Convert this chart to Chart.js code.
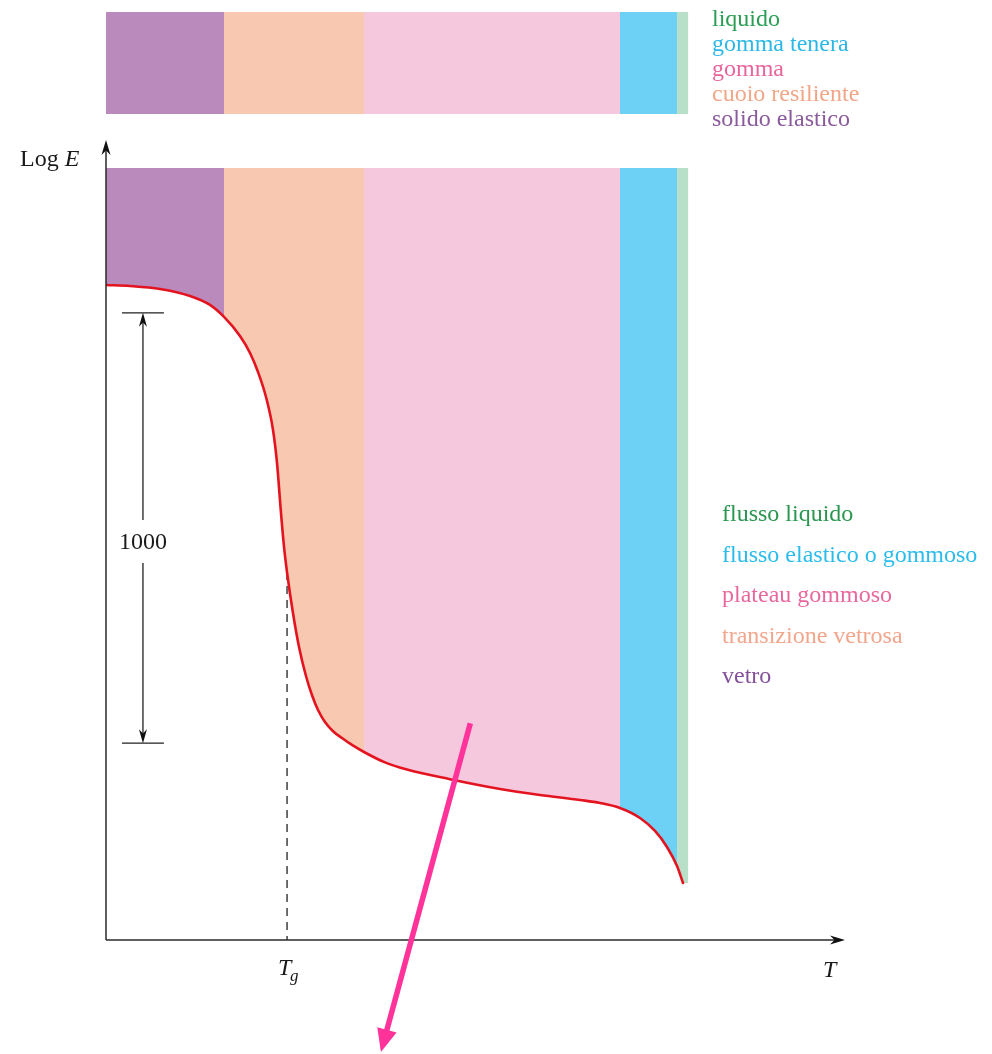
<!DOCTYPE html>
<html><head><meta charset="utf-8">
<script src="https://cdn.jsdelivr.net/npm/chart.js@4.4.1/dist/chart.umd.min.js"></script>
<style>html,body{margin:0;padding:0;background:#fff}canvas{display:block}</style>
</head><body><canvas id="c" width="992" height="1054"></canvas>
<script>
// behaviour regions, left -> right (T axis, arbitrary units 0..100)
const BAND_EDGES = [0, 15.97, 34.91, 69.55, 77.27, 78.8];
const BAND_COLORS = ["#bb8abd", "#f8c8b0", "#f6c8de", "#6dd0f5", "#b8dfc8"];
const STRIP_NAMES = ["solido elastico", "cuoio resiliente", "gomma", "gomma tenera", "liquido"];
const STRIP_TEXT = ["#8a5a9c", "#f2a688", "#e8649c", "#2cb8e6", "#2a9d55"];
const REGION_NAMES = ["vetro", "transizione vetrosa", "plateau gommoso", "flusso elastico o gommoso", "flusso liquido"];
const REGION_TEXT = ["#84509a", "#f2a68c", "#e8689e", "#2cbcec", "#2a9650"];

// modulus curve (Log E, arbitrary units 0..116)
const CURVE_T = [0, 3.25, 7.31, 11.37, 14.07, 15.97, 18.13, 19.49, 20.57, 21.65, 22.6, 23.14, 23.68, 24.09, 24.49,
  25.3, 26.12, 27.06, 27.88, 28.69, 29.63, 30.72, 31.93, 33.29, 34.91, 37.75, 40.73, 46.55, 53.32, 58.73, 64.14, 66.85,
  69.55, 72.26, 74.29, 75.91, 77.27, 78.08];
const CURVE_LOGE = [81.88, 81.75, 81.38, 80.5, 79.38, 77.88, 75.5, 73.38, 71.0, 67.88, 63.75, 59.63, 53.38, 49.13, 46.0,
  40.88, 36.63, 33.0, 30.6, 28.75, 27.25, 26.1, 25.25, 24.38, 23.5, 22.2, 21.3, 20.1, 18.88, 18.13, 17.5, 17.13,
  16.5, 15.25, 13.63, 11.63, 9.25, 7.13];
const FILL_END = [78.8, 7.13];         // green strip bottom-right corner
const FILL_TOP = 96.5;                 // top of the coloured regions
const STRIP_TOP = 116, STRIP_BOTTOM = 103.25;

const TG = 24.5, TG_LOGE = 46;         // glass transition marker
const SPAN_T = 5.0, SPAN_HI = 78.4, SPAN_LO = 24.6, SPAN_LABEL = "1000", SPAN_LABEL_AT = 49.75;
const POINTER_FROM = [49.3, 27.1], POINTER_TO = [37.2, -14];

const SERIF = '"Liberation Serif","Times New Roman",serif';
const bandOf = x => { let i = 0; while (i < BAND_COLORS.length - 1 && x >= BAND_EDGES[i + 1] - 1e-6) i++; return i; };
const segColor = c => BAND_COLORS[bandOf(c.p0.parsed.x)];

const curve = CURVE_T.map((t, i) => ({ x: t, y: CURVE_LOGE[i] }));
const fillPts = curve.concat([{ x: FILL_END[0], y: FILL_END[1] }]);
const stripPts = BAND_EDGES.map(x => ({ x, y: STRIP_TOP }));

function arrowHead(ctx, x, y, ang, len, half) {
  ctx.save(); ctx.translate(x, y); ctx.rotate(ang);
  ctx.beginPath(); ctx.moveTo(0, 0); ctx.lineTo(-len, -half); ctx.lineTo(-len * 0.7, 0); ctx.lineTo(-len, half);
  ctx.closePath(); ctx.fill(); ctx.restore();
}

const decor = {
  id: "decor",
  afterDatasetsDraw(chart) {
    const { ctx, scales: { x: xs, y: ys } } = chart;
    const X = v => xs.getPixelForValue(v), Y = v => ys.getPixelForValue(v);
    const x0 = X(0), y0 = Y(0);
    ctx.save();
    // axes
    ctx.strokeStyle = "#2a2a2a"; ctx.fillStyle = "#111"; ctx.lineWidth = 1.5;
    ctx.beginPath(); ctx.moveTo(x0, y0); ctx.lineTo(x0, 146); ctx.moveTo(x0, y0); ctx.lineTo(xs.right - 4, y0); ctx.stroke();
    arrowHead(ctx, x0, 140, -Math.PI / 2, 15, 4.5);
    arrowHead(ctx, xs.right, y0, 0, 15, 4.5);
    // 1000 span marker
    const sx = X(SPAN_T), sHi = Y(SPAN_HI), sLo = Y(SPAN_LO), mid = Y(SPAN_LABEL_AT);
    ctx.lineWidth = 1.3; ctx.strokeStyle = "#222";
    ctx.beginPath();
    ctx.moveTo(sx - 21, sHi); ctx.lineTo(sx + 21, sHi);
    ctx.moveTo(sx - 21, sLo); ctx.lineTo(sx + 21, sLo);
    ctx.moveTo(sx, sHi + 6); ctx.lineTo(sx, mid - 22);
    ctx.moveTo(sx, mid + 21); ctx.lineTo(sx, sLo - 6);
    ctx.stroke();
    arrowHead(ctx, sx, sHi, -Math.PI / 2, 14, 4);
    arrowHead(ctx, sx, sLo, Math.PI / 2, 14, 4);
    ctx.fillStyle = "#1a1a1a"; ctx.font = `24px ${SERIF}`; ctx.textAlign = "center"; ctx.textBaseline = "middle";
    ctx.fillText(SPAN_LABEL, sx, mid + 1);
    // axis titles
    ctx.textAlign = "left"; ctx.textBaseline = "alphabetic";
    ctx.font = `24px ${SERIF}`; ctx.fillText("Log ", 20, 166);
    const w = ctx.measureText("Log ").width;
    ctx.font = `italic 24px ${SERIF}`; ctx.fillText("E", 20 + w, 166);
    ctx.fillText("T", 823, 977);
    const tx = X(TG);
    ctx.fillText("T", tx - 9, 975);
    ctx.font = `italic 17px ${SERIF}`; ctx.fillText("g", tx + 3, 981);
    // legends
    ctx.font = `24px ${SERIF}`;
    for (let i = 0; i < STRIP_NAMES.length; i++) {
      ctx.fillStyle = STRIP_TEXT[i]; ctx.fillText(STRIP_NAMES[i], 712, 126 - 25 * i);
      ctx.fillStyle = REGION_TEXT[i]; ctx.fillText(REGION_NAMES[i], 722, 683 - 40.5 * i);
    }
    // pink pointer
    const px1 = X(POINTER_FROM[0]), py1 = Y(POINTER_FROM[1]), px2 = X(POINTER_TO[0]), py2 = Y(POINTER_TO[1]);
    const ang = Math.atan2(py2 - py1, px2 - px1);
    ctx.strokeStyle = "#ff3399"; ctx.fillStyle = "#ff3399"; ctx.lineWidth = 5.5; ctx.lineCap = "butt";
    ctx.beginPath(); ctx.moveTo(px1, py1); ctx.lineTo(px2 - 16 * Math.cos(ang), py2 - 16 * Math.sin(ang)); ctx.stroke();
    ctx.beginPath(); ctx.save(); ctx.translate(px2, py2); ctx.rotate(ang);
    ctx.moveTo(0, 0); ctx.lineTo(-23, -10); ctx.lineTo(-23, 10); ctx.closePath(); ctx.fill(); ctx.restore();
    ctx.restore();
  },
};

new Chart(document.getElementById("c"), {
  type: "line",
  data: {
    datasets: [
      { data: stripPts, order: 4, fill: { value: STRIP_BOTTOM }, borderWidth: 0, pointRadius: 0, tension: 0,
        segment: { backgroundColor: segColor }, backgroundColor: BAND_COLORS[0] },
      { data: fillPts, order: 3, fill: { value: FILL_TOP }, borderWidth: 0, pointRadius: 0, cubicInterpolationMode: "monotone",
        segment: { backgroundColor: segColor }, backgroundColor: BAND_COLORS[0] },
      { data: [{ x: TG, y: TG_LOGE }, { x: TG, y: 0 }], order: 2, fill: false, borderColor: "#222", borderWidth: 1.3,
        borderDash: [8, 6], pointRadius: 0 },
      { data: curve, order: 1, fill: false, borderColor: "#e3141f", borderWidth: 2.6, pointRadius: 0,
        cubicInterpolationMode: "monotone", borderCapStyle: "round" },
    ],
  },
  options: {
    responsive: false, devicePixelRatio: 1, animation: false,
    layout: { padding: { left: 106, right: 147, top: 12, bottom: 114 } },
    plugins: { legend: { display: false }, tooltip: { enabled: false } },
    scales: {
      x: { type: "linear", min: 0, max: 100, display: false },
      y: { type: "linear", min: 0, max: 116, display: false },
    },
  },
  plugins: [decor],
});
</script></body></html>
